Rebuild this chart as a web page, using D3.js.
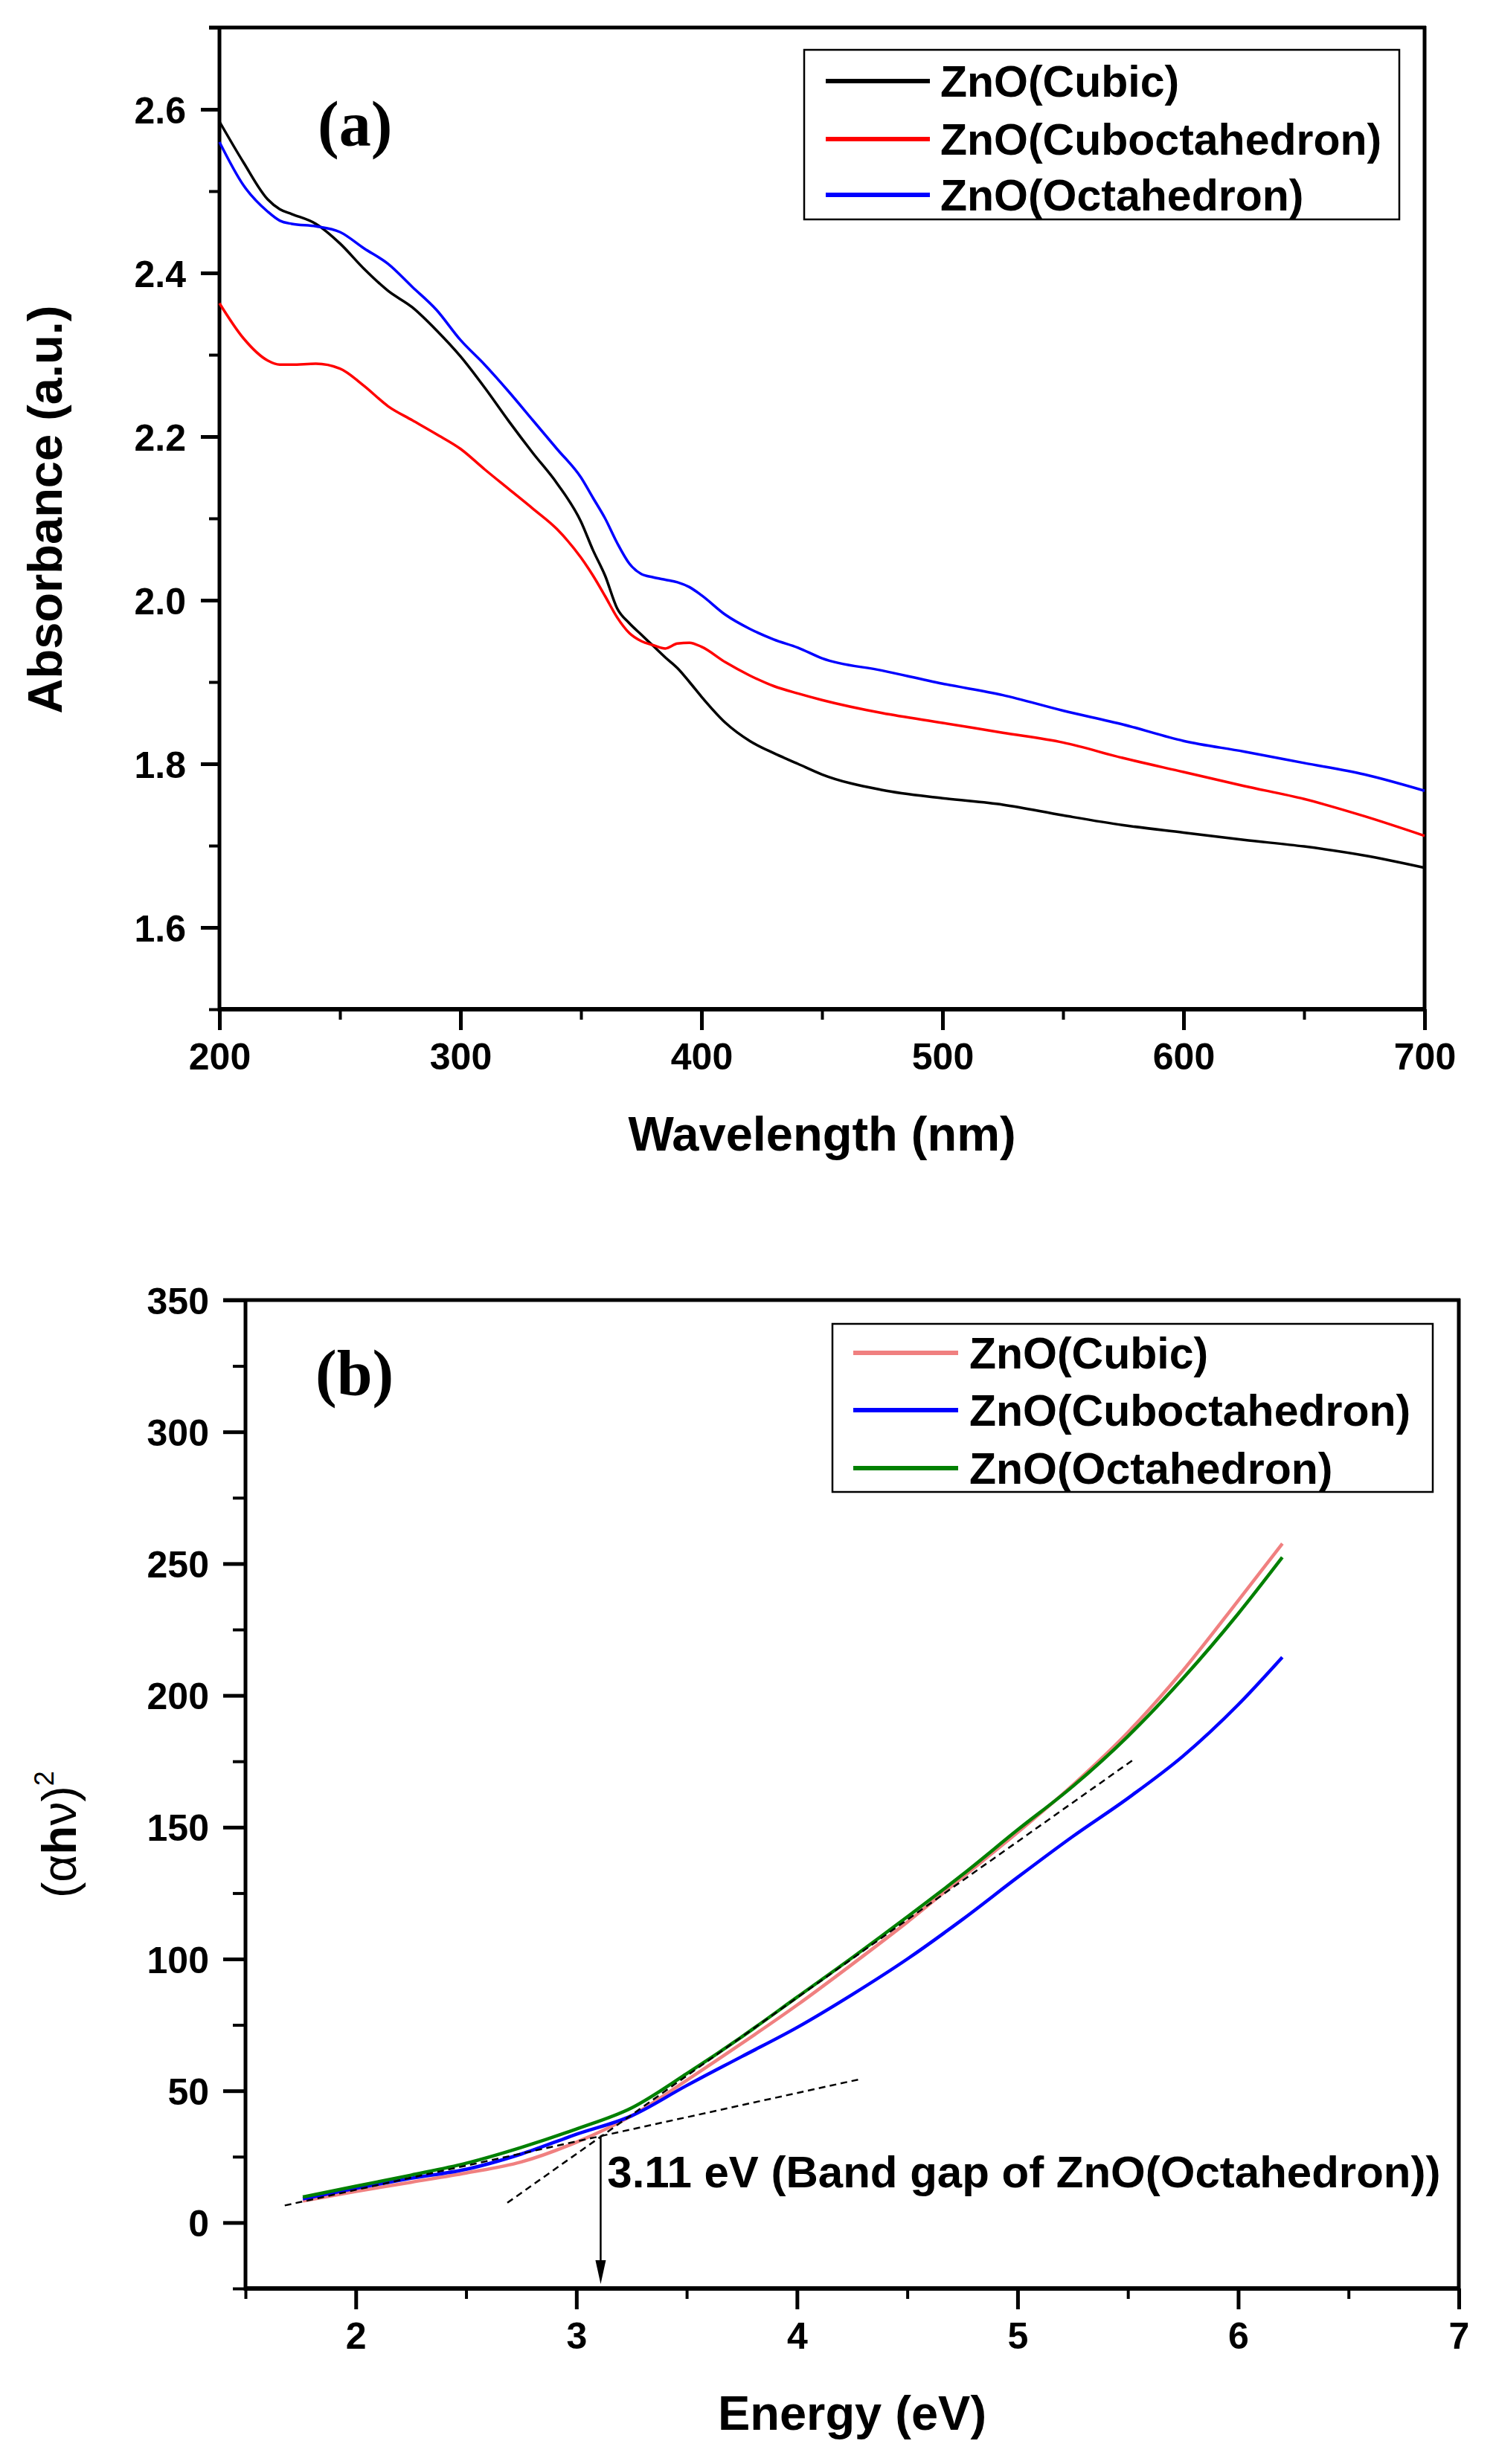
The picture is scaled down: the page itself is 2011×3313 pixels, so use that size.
<!DOCTYPE html>
<html>
<head>
<meta charset="utf-8">
<script src="https://cdn.jsdelivr.net/npm/d3@7"></script>
<style>
  html, body { margin: 0; padding: 0; background: #ffffff; }
  svg { display: block; }
</style>
</head>
<body>
<svg id="chart" width="2011" height="3313"></svg>
<script>
// ---------- Panel (a) data: absorbance vs wavelength ----------
const wavelength = [200,210,220,225,230,240,250,260,270,280,290,300,310,320,330,340,350,355,360,365,370,375,380,385,390,395,400,410,420,430,440,450,475,500,525,550,575,600,625,650,675,700];
const absCubic =   [2.585,2.535,2.490,2.478,2.472,2.460,2.436,2.405,2.378,2.358,2.330,2.298,2.260,2.219,2.180,2.143,2.096,2.061,2.030,1.990,1.972,1.958,1.944,1.930,1.917,1.900,1.882,1.850,1.828,1.813,1.800,1.787,1.768,1.758,1.750,1.737,1.725,1.716,1.707,1.699,1.688,1.673];
const absCubocta = [2.363,2.320,2.293,2.288,2.288,2.289,2.283,2.262,2.237,2.220,2.203,2.185,2.160,2.136,2.112,2.087,2.052,2.030,2.005,1.979,1.960,1.950,1.945,1.941,1.947,1.948,1.943,1.924,1.908,1.895,1.886,1.878,1.862,1.850,1.838,1.826,1.807,1.790,1.773,1.757,1.736,1.712];
const absOcta =    [2.560,2.507,2.475,2.464,2.460,2.457,2.450,2.430,2.411,2.383,2.355,2.318,2.288,2.255,2.220,2.185,2.150,2.125,2.100,2.070,2.045,2.032,2.028,2.025,2.022,2.016,2.006,1.982,1.965,1.952,1.942,1.929,1.914,1.898,1.884,1.865,1.848,1.828,1.815,1.801,1.787,1.767];
const aSeriesNames = ["ZnO(Cubic)","ZnO(Cuboctahedron)","ZnO(Octahedron)"];
const aSeriesColors = ["#000000","#ff0000","#0000ff"];
const aYTicks = [1.6,1.8,2.0,2.2,2.4,2.6];
const aYMinor = [1.5,1.7,1.9,2.1,2.3,2.5,2.7];
const aXTicks = [200,300,400,500,600,700];
const aXMinor = [250,350,450,550,650];

// ---------- Panel (b) data: (alpha h nu)^2 vs energy ----------
const energy =    [1.76,2.0,2.25,2.5,2.75,3.0,3.25,3.5,3.75,4.0,4.25,4.5,4.75,5.0,5.25,5.5,5.75,6.0,6.2];
const ahvCubic =  [8.2,11.8,15.3,18.8,23.0,30.5,40.5,54.0,68.0,82.5,98.0,114.0,131.0,148.0,166.0,186.0,209.5,236.0,257.6];
const ahvCubocta =[9.0,13.0,16.8,20.2,26.0,33.5,40.5,52.0,63.0,74.0,86.5,100.0,115.0,131.0,146.5,161.0,177.0,196.5,214.5];
const ahvOcta =   [9.7,13.8,18.0,22.5,28.5,35.5,43.5,56.5,70.5,85.5,100.5,116.0,132.0,149.0,165.5,184.5,206.5,231.0,252.4];
const bSeriesNames = ["ZnO(Cubic)","ZnO(Cuboctahedron)","ZnO(Octahedron)"];
const bSeriesColors = ["#f08080","#0000ff","#008000"];
const bYTicks = [0,50,100,150,200,250,300,350];
const bYMinor = [-25,25,75,125,175,225,275,325];
const bXTicks = [2,3,4,5,6,7];
const bXMinor = [1.5,2.5,3.5,4.5,5.5,6.5];
// tangent (dashed) lines: [E, value] end points
const tangentSteepE = [2.687, 5.526];
const tangentSteepV = [7.5, 175.7];
const tangentFlatE = [1.678, 4.28];
const tangentFlatV = [6.5, 54.3];
const bandGap = 3.11;
const bandGapValue = 33;
const annotationText = "3.11 eV (Band gap of ZnO(Octahedron))";

// ---------- drawing ----------
const svg = d3.select("#chart");
const SANS = "'Liberation Sans', Arial, sans-serif";
const SERIF = "'Liberation Serif', 'Times New Roman', serif";

function panel(cfg) {
  const g = svg.append("g");
  const x = d3.scaleLinear().domain(cfg.xDomain).range([cfg.left, cfg.right]);
  const y = d3.scaleLinear().domain(cfg.yDomain).range([cfg.bottom, cfg.top]);

  // minor ticks
  g.append("g").attr("transform", `translate(${cfg.left},0)`)
    .call(d3.axisLeft(y).tickValues(cfg.yMinor).tickSize(cfg.yMinorLen).tickFormat("").tickSizeOuter(0))
    .call(s => s.select(".domain").remove())
    .call(s => s.selectAll("line").attr("stroke", "#000").attr("stroke-width", 4));
  g.append("g").attr("transform", `translate(0,${cfg.bottom})`)
    .call(d3.axisBottom(x).tickValues(cfg.xMinor).tickSize(cfg.xMinorLen).tickFormat("").tickSizeOuter(0))
    .call(s => s.select(".domain").remove())
    .call(s => s.selectAll("line").attr("stroke", "#000").attr("stroke-width", 4));

  // major ticks + labels
  const ya = g.append("g").attr("transform", `translate(${cfg.left},0)`)
    .call(d3.axisLeft(y).tickValues(cfg.yTicks).tickSize(cfg.yMajorLen).tickSizeOuter(0).tickFormat(cfg.yFmt));
  ya.select(".domain").remove();
  ya.selectAll("line").attr("stroke", "#000").attr("stroke-width", 5);
  ya.selectAll("text").attr("x", -cfg.yLabelGap).attr("dy", "0.36em")
    .attr("font-family", SANS).attr("font-weight", "bold").attr("font-size", 50).attr("fill", "#000");

  const xa = g.append("g").attr("transform", `translate(0,${cfg.bottom})`)
    .call(d3.axisBottom(x).tickValues(cfg.xTicks).tickSize(cfg.xMajorLen).tickSizeOuter(0).tickFormat(cfg.xFmt));
  xa.select(".domain").remove();
  xa.selectAll("line").attr("stroke", "#000").attr("stroke-width", 5);
  xa.selectAll("text").attr("y", 81).attr("dy", "0")
    .attr("font-family", SANS).attr("font-weight", "bold").attr("font-size", 50).attr("fill", "#000");

  // frame
  g.append("line").attr("x1", cfg.left).attr("x2", cfg.left).attr("y1", cfg.top - 2).attr("y2", cfg.bottom + 3)
    .attr("stroke", "#000").attr("stroke-width", 5);
  g.append("line").attr("x1", cfg.left - 2).attr("x2", cfg.right + 2).attr("y1", cfg.bottom).attr("y2", cfg.bottom)
    .attr("stroke", "#000").attr("stroke-width", 6);
  g.append("line").attr("x1", cfg.left - (cfg.topTick || 0)).attr("x2", cfg.right + 2).attr("y1", cfg.top).attr("y2", cfg.top)
    .attr("stroke", "#000").attr("stroke-width", 5);
  g.append("line").attr("x1", cfg.right).attr("x2", cfg.right).attr("y1", cfg.top - 2).attr("y2", cfg.bottom + 2)
    .attr("stroke", "#000").attr("stroke-width", 5);

  // series
  const line = d3.line().x(d => x(d[0])).y(d => y(d[1])).curve(d3.curveMonotoneX);
  cfg.series.forEach((vals, i) => {
    g.append("path")
      .datum(cfg.xs.map((v, k) => [v, vals[k]]))
      .attr("d", line).attr("fill", "none")
      .attr("stroke", cfg.colors[i]).attr("stroke-width", cfg.lineWidth)
      .attr("stroke-linejoin", "round");
  });

  // legend
  const L = cfg.legend;
  g.append("rect").attr("x", L.x0).attr("y", L.y0).attr("width", L.x1 - L.x0).attr("height", L.y1 - L.y0)
    .attr("fill", "#fff").attr("stroke", "#000").attr("stroke-width", 2.5);
  cfg.names.forEach((name, i) => {
    const ry = L.rows[i];
    g.append("line").attr("x1", L.lx0).attr("x2", L.lx1).attr("y1", ry).attr("y2", ry)
      .attr("stroke", cfg.colors[i]).attr("stroke-width", 6);
    g.append("text").attr("x", L.tx).attr("y", ry + 21).text(name)
      .attr("font-family", SANS).attr("font-weight", "bold").attr("font-size", 59).attr("fill", "#000");
  });

  // panel letter
  g.append("text").attr("x", cfg.tag.x).attr("y", cfg.tag.y).text(cfg.tag.text)
    .attr("font-family", SERIF).attr("font-weight", "bold").attr("font-size", 86).attr("fill", "#000");

  // x title
  g.append("text").attr("x", (cfg.left + cfg.right) / 2).attr("y", cfg.bottom + 190)
    .attr("text-anchor", "middle").text(cfg.xTitle)
    .attr("font-family", SANS).attr("font-weight", "bold").attr("font-size", 65).attr("fill", "#000");

  return { g, x, y };
}

// Panel (a)
const A = panel({
  left: 295, right: 1915, top: 37, bottom: 1357,
  xDomain: [200, 700], yDomain: [1.5, 2.7],
  xTicks: aXTicks, xMinor: aXMinor, yTicks: aYTicks, yMinor: aYMinor,
  xFmt: d3.format("d"), yFmt: d3.format(".1f"),
  yMajorLen: 25, yMinorLen: 14, xMajorLen: 28, xMinorLen: 14, yLabelGap: 45, topTick: 14,
  xs: wavelength, series: [absCubic, absCubocta, absOcta],
  colors: aSeriesColors, names: aSeriesNames, lineWidth: 3.5,
  legend: { x0: 1081, x1: 1881, y0: 67, y1: 295, lx0: 1110, lx1: 1250, tx: 1264, rows: [109, 187, 262] },
  tag: { x: 427, y: 196, text: "(a)" },
  xTitle: "Wavelength (nm)"
});
svg.append("text")
  .attr("transform", "translate(83,685) rotate(-90)")
  .attr("text-anchor", "middle").text("Absorbance (a.u.)")
  .attr("font-family", SANS).attr("font-weight", "bold").attr("font-size", 65).attr("fill", "#000");

// Panel (b)
const B = panel({
  left: 330, right: 1961, top: 1748, bottom: 3077,
  xDomain: [1.5, 7], yDomain: [-25, 350],
  xTicks: bXTicks, xMinor: bXMinor, yTicks: bYTicks, yMinor: bYMinor,
  xFmt: d3.format("d"), yFmt: d3.format("d"),
  yMajorLen: 30, yMinorLen: 17, xMajorLen: 28, xMinorLen: 14, yLabelGap: 49, topTick: 30,
  xs: energy, series: [ahvCubic, ahvCubocta, ahvOcta],
  colors: bSeriesColors, names: bSeriesNames, lineWidth: 4.5,
  legend: { x0: 1119, x1: 1926, y0: 1780, y1: 2006, lx0: 1147, lx1: 1288, tx: 1303, rows: [1819, 1896, 1974] },
  tag: { x: 424, y: 1875, text: "(b)" },
  xTitle: "Energy (eV)"
});

// dashed tangents
const tl = d3.line().x(d => B.x(d[0])).y(d => B.y(d[1]));
[[tangentSteepE, tangentSteepV], [tangentFlatE, tangentFlatV]].forEach(([es, vs]) => {
  B.g.append("path").datum(es.map((e, i) => [e, vs[i]])).attr("d", tl)
    .attr("fill", "none").attr("stroke", "#000").attr("stroke-width", 2.5).attr("stroke-dasharray", "9,6");
});

// band gap arrow
const ax = B.x(bandGap), ayTop = B.y(bandGapValue), ayBot = B.y(-25) - 6;
B.g.append("line").attr("x1", ax).attr("x2", ax).attr("y1", ayTop).attr("y2", ayBot - 20)
  .attr("stroke", "#000").attr("stroke-width", 2.5);
B.g.append("path")
  .attr("d", `M${ax - 7},${ayBot - 32} L${ax + 7},${ayBot - 32} L${ax},${ayBot} Z`)
  .attr("fill", "#000");
B.g.append("text").attr("x", B.x(3.14)).attr("y", B.y(13.3)).text(annotationText)
  .attr("font-family", SANS).attr("font-weight", "bold").attr("font-size", 60).attr("fill", "#000");

// y title for (b): (αhν)²
const yt = svg.append("text")
  .attr("transform", "translate(102,2552) rotate(-90)")
  .attr("font-family", SANS).attr("font-size", 64).attr("fill", "#000");
yt.append("tspan").text("(α");
yt.append("tspan").attr("font-weight", "bold").text("h");
yt.append("tspan").text("ν)");
yt.append("tspan").attr("font-size", 36).attr("dy", -30).text("2");
</script>
</body>
</html>
